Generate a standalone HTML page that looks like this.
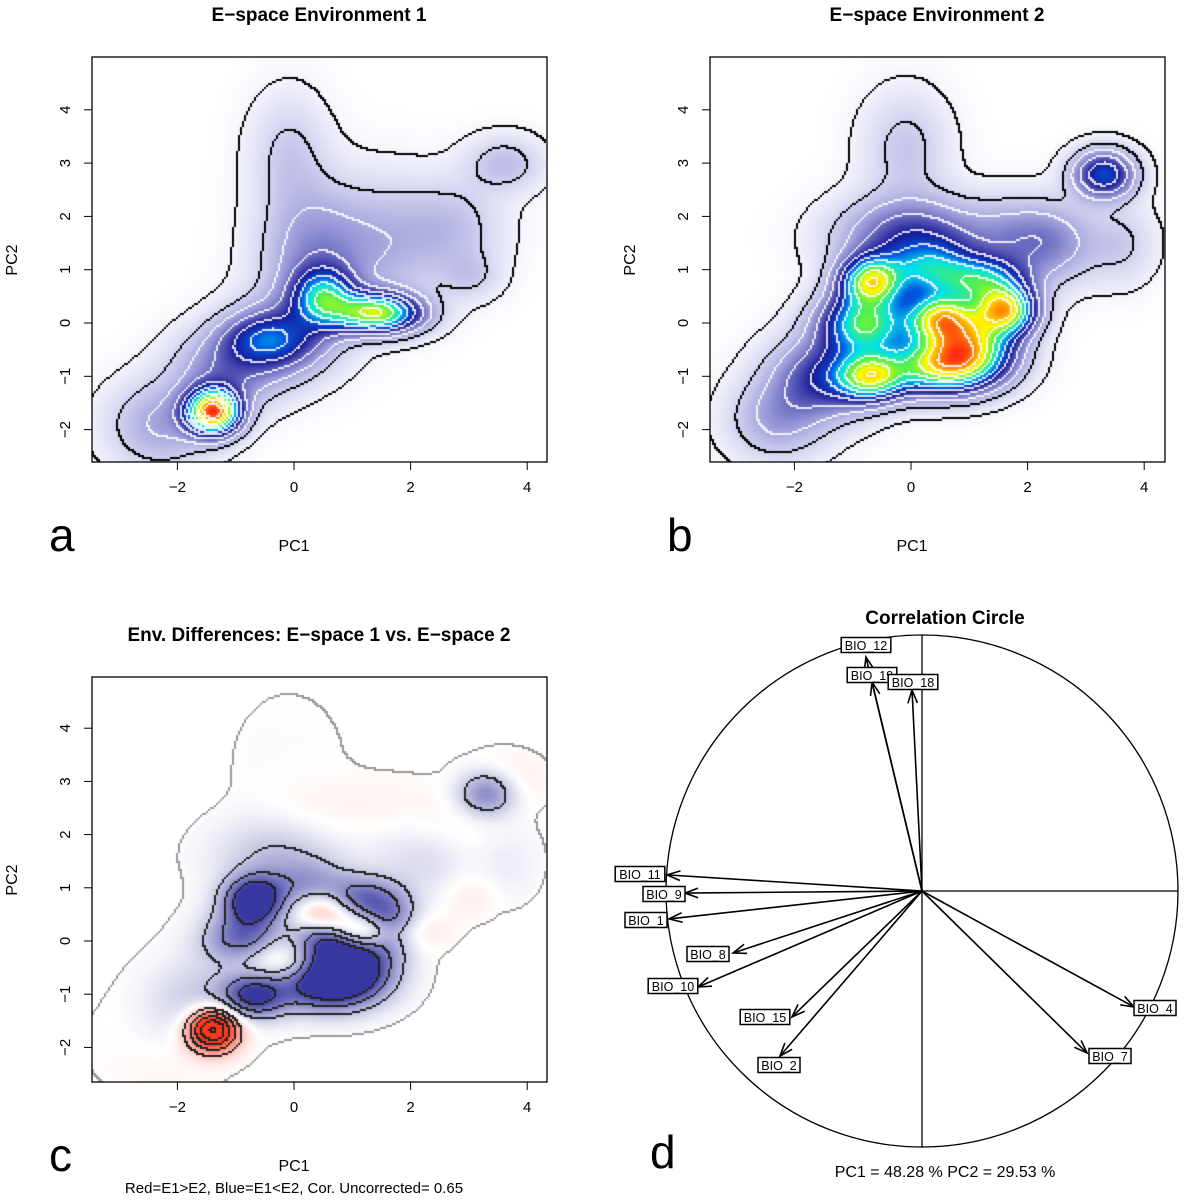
<!DOCTYPE html>
<html><head><meta charset="utf-8"><style>
body{margin:0;background:#fff;width:1184px;height:1200px;position:relative;overflow:hidden;font-family:"Liberation Sans",sans-serif}
canvas{position:absolute}
svg{position:absolute;left:0;top:0}
</style></head><body>
<canvas id="ca" style="left:92px;top:57px" width="455" height="405"></canvas>
<canvas id="cb" style="left:710px;top:57px" width="455" height="405"></canvas>
<canvas id="cc" style="left:92px;top:677px" width="455" height="405"></canvas>
<svg id="s" width="1184" height="1200"></svg>
<script>
// Env 1 mixture components (PC1, PC2, sd1, sd2, weight)
const e1cx=[-2.3,-1.2,-0.3,0.3,1.5,2.7,3.6,3.0,-0.1,-1.4,1.4,0.5,-0.5];
const e1cy=[-1.9,-0.9,-0.3,1.2,1.5,1.8,3.0,0.9,3.2,-1.65,0.2,0.5,-0.3];
const e1sx=[0.6,0.6,0.6,0.6,0.7,0.6,0.45,0.35,0.45,0.3,0.5,0.35,0.5];
const e1sy=[0.55,0.5,0.5,0.9,0.8,0.6,0.35,0.3,0.75,0.28,0.25,0.35,0.3];
const e1w=[0.13,0.17,0.22,0.16,0.1,0.08,0.09,0.06,0.07,0.95,0.7,0.45,0.2];
// Env 2 mixture components
const e2cx=[-2.3,-1.5,0.0,1.8,2.5,3.3,-0.1,0.5,1.6,-0.7,-0.7,-0.8,0.5,1.0,1.2,0.3,3.6];
const e2cy=[-1.8,-1.0,1.6,1.6,1.5,2.8,3.3,0.1,0.25,0.8,-1.0,0.0,-0.8,-0.4,0.8,1.0,1.5];
const e2sx=[0.55,0.6,0.8,0.6,0.5,0.35,0.5,0.4,0.35,0.35,0.4,0.5,0.6,0.5,0.5,0.5,0.4];
const e2sy=[0.5,0.5,0.5,0.5,0.5,0.3,0.7,0.3,0.3,0.3,0.3,0.4,0.35,0.4,0.3,0.35,0.5];
const e2w=[0.12,0.25,0.25,0.12,0.1,0.35,0.07,0.62,0.68,0.6,0.55,0.55,0.6,0.55,0.4,0.32,0.06];
const xTicks=[-2,0,2,4];
const yTicks=[-2,-1,0,1,2,3,4];
const varNames=["BIO_12","BIO_19","BIO_18","BIO_11","BIO_9","BIO_1","BIO_8","BIO_10","BIO_15","BIO_2","BIO_4","BIO_7"];
const loadX=[-0.219,-0.195,-0.039,-0.996,-0.926,-0.988,-0.738,-0.875,-0.508,-0.555,0.828,0.645];
const loadY=[0.914,0.816,0.785,0.063,-0.008,-0.109,-0.242,-0.375,-0.492,-0.645,-0.453,-0.633];
const labX=[866,872,913,640,664,646,708,673,765,779,1155,1110];
const labY=[645,675,682,874,894,920,954,986,1017,1065,1008,1056];

function dens(cx,cy,sx,sy,w,x,y){let s=0;for(let i=0;i<cx.length;i++){const dx=(x-cx[i])/sx[i],dy=(y-cy[i])/sy[i];s+=w[i]*Math.exp(-0.5*(dx*dx+dy*dy));}return s;}
const stops=[[0,[255,255,255]],[0.02,[236,236,250]],[0.15,[150,150,215]],[0.3,[25,25,150]],[0.42,[0,90,225]],[0.52,[0,225,235]],[0.62,[80,240,80]],[0.76,[255,250,0]],[0.88,[255,150,0]],[1,[255,40,20]]];
function cmap(v){v=Math.max(0,Math.min(1,v));for(let i=1;i<stops.length;i++){if(v<=stops[i][0]){const a=stops[i-1],b=stops[i],t=(v-a[0])/(b[0]-a[0]);return a[1].map((c,k)=>Math.round(c+(b[1][k]-c)*t));}}return stops[stops.length-1][1];}
function dmap(v){
  if(v>=0){const t=Math.min(1,v);return [255,Math.round(255-200*t),Math.round(255-225*t)];}
  const t=Math.min(1,-v);return [Math.round(255-200*t),Math.round(255-200*t),Math.round(255-95*t)];}
const CELL=2;
function grid(left,top,x0,y0,ux,uy,f){const W=455,H=405,nx=W/CELL|0,ny=Math.ceil(H/CELL),g=[];for(let j=0;j<=ny;j++){const r=[];for(let i=0;i<=nx;i++){const pcx=(left+i*CELL-x0)/ux,pcy=(y0-(top+j*CELL))/uy;r.push(f(pcx,pcy));}g.push(r);}return g;}
function draw(id,g,colf,levels,lineCols){const c=document.getElementById(id).getContext('2d');
 for(let j=0;j<g.length;j++)for(let i=0;i<g[0].length;i++){const col=colf(g[j][i]);c.fillStyle=`rgb(${col[0]},${col[1]},${col[2]})`;c.fillRect(i*CELL,j*CELL,CELL,CELL);}
 const lv=v=>{let k=0;for(const l of levels)if(v>l)k++;return k;};
 for(let j=0;j<g.length-1;j++)for(let i=0;i<g[0].length-1;i++){const a=lv(g[j][i]),b=lv(g[j][i+1]),d=lv(g[j+1][i]);if(a!==b||a!==d){const k=Math.max(a,b,d)-1;c.fillStyle=lineCols(k);c.fillRect(i*CELL,j*CELL,CELL,CELL);}}
}
function f1(x,y){return dens(e1cx,e1cy,e1sx,e1sy,e1w,x,y);}
function f2(x,y){return dens(e2cx,e2cy,e2sx,e2sy,e2w,x,y);}
let m1=0,m2=0;for(let x=-3;x<5;x+=0.05)for(let y=-3;y<5;y+=0.05){m1=Math.max(m1,f1(x,y));m2=Math.max(m2,f2(x,y));}
const g1=grid(92,57,294,323,58.3,53.3,(x,y)=>f1(x,y)/m1);
const g2=grid(710,57,911,323,58.3,53.3,(x,y)=>f2(x,y)/m2);
const g3=grid(92,677,294,941,58.3,53.2,(x,y)=>{const a=f1(x,y)/m1,b=f2(x,y)/m2;return {d:(a-b)*1.8,u:Math.max(a,b)};});
const lev=[0.012,0.06,0.12,0.2,0.3,0.4,0.5,0.6,0.7,0.8,0.9];
const lc=k=>k<=1?'#000':'rgba(255,255,255,0.85)';
draw('ca',g1,cmap,lev,lc);
draw('cb',g2,cmap,lev,lc);
(function(){const c=document.getElementById('cc').getContext('2d');const g=g3;
 for(let j=0;j<g.length;j++)for(let i=0;i<g[0].length;i++){const col=g[j][i].u<0.012?[255,255,255]:dmap(g[j][i].d);c.fillStyle=`rgb(${col[0]},${col[1]},${col[2]})`;c.fillRect(i*CELL,j*CELL,CELL,CELL);}
 const dl=[-0.9,-0.6,-0.3,0.3,0.6,0.9,1.2,1.5];
 const lv=v=>{let k=0;for(const l of dl)if(v>l)k++;return k;};
 for(let j=0;j<g.length-1;j++)for(let i=0;i<g[0].length-1;i++){
  const a=lv(g[j][i].d),b=lv(g[j][i+1].d),d=lv(g[j+1][i].d);
  if(g[j][i].u>0.05&&(a!==b||a!==d)){c.fillStyle='#222';c.fillRect(i*CELL,j*CELL,CELL,CELL);}
  const u=g[j][i].u>0.012,ub=g[j][i+1].u>0.012,ud=g[j+1][i].u>0.012;
  if(u!==ub||u!==ud){c.fillStyle='#999';c.fillRect(i*CELL,j*CELL,CELL,CELL);}
 }})();

const S=document.getElementById('s');const NS='http://www.w3.org/2000/svg';
function el(t,a,txt){const e=document.createElementNS(NS,t);for(const k in a)e.setAttribute(k,a[k]);if(txt!==undefined)e.textContent=txt;S.appendChild(e);return e;}
function panel(key,left,top,x0,y0,ux,uy,title,letter){
 let e=el('rect',{x:left,y:top,width:455,height:405,fill:'none',stroke:'#000','stroke-width':1.3});
 
 xTicks.forEach(t=>{const px=x0+t*ux;let l=el('line',{x1:px,x2:px,y1:top+405,y2:top+413,stroke:'#000'});
  let tx=el('text',{x:px,y:top+435,'font-size':15,'text-anchor':'middle'},t<0?'−'+(-t):String(t));});
 yTicks.forEach(t=>{const py=y0-t*uy;let l=el('line',{x1:left-8,x2:left,y1:py,y2:py,stroke:'#000'});
  let tx=el('text',{x:0,y:0,'font-size':15,'text-anchor':'middle',transform:`translate(${left-22},${py}) rotate(-90)`},t<0?'−'+(-t):String(t));});
 let t1=el('text',{x:left+227,y:top-36,'font-size':19,'font-weight':'bold','text-anchor':'middle'},title);
 let t2=el('text',{x:left+202,y:top+494,'font-size':16,'text-anchor':'middle'},'PC1');
 let t3=el('text',{x:0,y:0,'font-size':16,'text-anchor':'middle',transform:`translate(${left-75},${top+203}) rotate(-90)`},'PC2');
 let t4=el('text',{x:left-43,y:top+494,'font-size':46},letter);
}
panel('panel-a',92,57,294,323,58.3,53.3,'E−space Environment 1','a');
panel('panel-b',710,57,911,323,58.3,53.3,'E−space Environment 2','b');
panel('panel-c',92,677,294,941,58.3,53.2,'Env. Differences: E−space 1 vs. E−space 2','c');
let cap=el('text',{x:294,y:1193,'font-size':15,'text-anchor':'middle'},'Red=E1>E2, Blue=E1<E2, Cor. Uncorrected= 0.65');


const CX=922,CY=891,R=256;
let ci=el('circle',{cx:CX,cy:CY,r:R,fill:'none',stroke:'#000','stroke-width':1.3});
let ah=el('line',{x1:CX,x2:CX+R,y1:CY,y2:CY,stroke:'#000','stroke-width':1.3});
let av=el('line',{x1:CX,x2:CX,y1:CY-R,y2:CY+R,stroke:'#000','stroke-width':1.3});
let ct=el('text',{x:945,y:624,'font-size':19,'font-weight':'bold','text-anchor':'middle'},'Correlation Circle');
let cv=el('text',{x:945,y:1177,'font-size':16,'text-anchor':'middle'},'PC1 =  48.28 % PC2 =  29.53 %');
let ld=el('text',{x:650,y:1168,'font-size':46},'d');
varNames.forEach((n,i)=>{const ex=CX+loadX[i]*R,ey=CY-loadY[i]*R;
 let l=el('line',{x1:CX,y1:CY,x2:ex,y2:ey,stroke:'#000','stroke-width':1.6});
 const ang=Math.atan2(ey-CY,ex-CX),h=14;
 const p=`M${ex-h*Math.cos(ang-0.35)},${ey-h*Math.sin(ang-0.35)} L${ex},${ey} L${ex-h*Math.cos(ang+0.35)},${ey-h*Math.sin(ang+0.35)}`;
 let hd=el('path',{d:p,fill:'none',stroke:'#000','stroke-width':1.6});
 const w=n.length*7.6+4;
 let b=el('rect',{x:labX[i]-w/2,y:labY[i]-7.5,width:w,height:15,fill:'#fff',stroke:'#000','stroke-width':1.5});
 let t=el('text',{x:labX[i],y:labY[i]+5,'font-size':12.5,'text-anchor':'middle'},n);
});
</script>
</body></html>
